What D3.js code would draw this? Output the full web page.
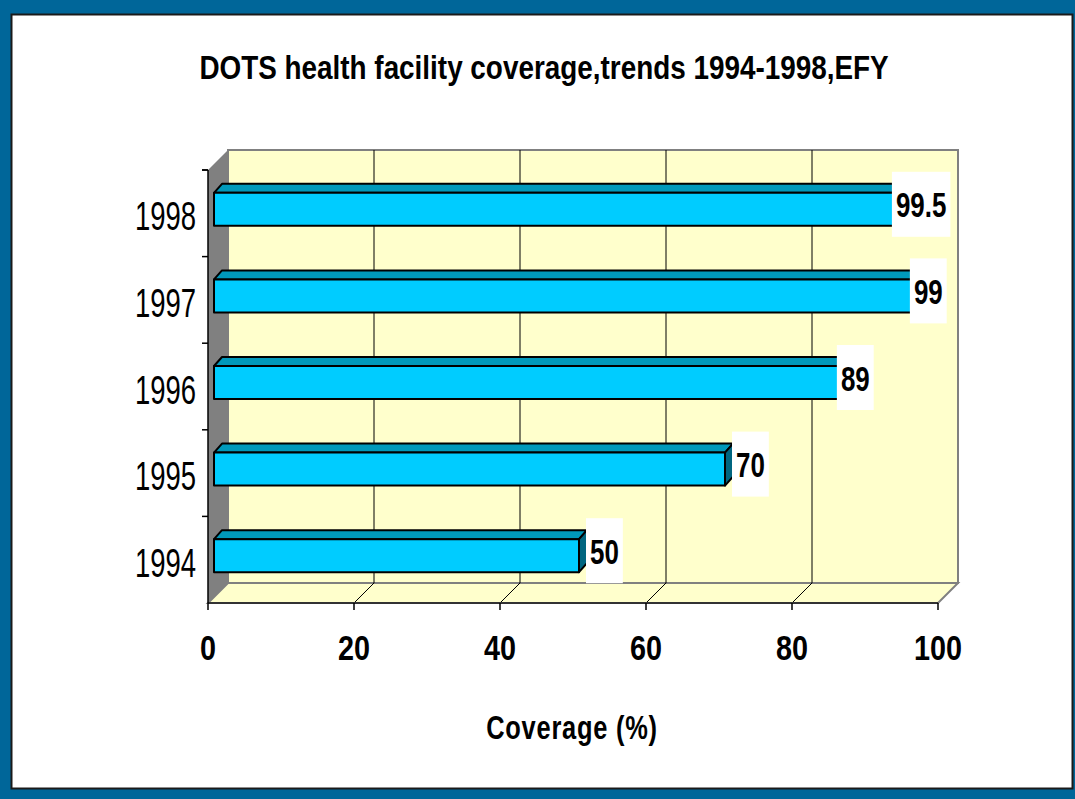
<!DOCTYPE html>
<html lang="en">
<head>
  <meta charset="UTF-8" />
  <title>DOTS health facility coverage</title>
  <script src="https://cdn.jsdelivr.net/npm/d3@7"></script>
  <style>
    * { margin: 0; padding: 0; }
    body { background: #fff; width: 1075px; height: 799px; overflow: hidden; }
    svg text { font-family: 'Liberation Sans', Arial, sans-serif; }
  </style>
</head>
<body>
  <svg id="chart" width="1075" height="799"></svg>

  <script>
    // data
    const years = ['1994', '1995', '1996', '1997', '1998'];
    const coverage = [50, 70, 89, 99, 99.5];
    const xTicks = [0, 20, 40, 60, 80, 100];
    const chartTitle = 'DOTS health facility coverage,trends 1994-1998,EFY';
    const xTitle = 'Coverage (%)';

    const W = 1075, H = 799;
    const DEP = 20;          // 3d depth offset (x right, y up)
    const plot = { left: 208, right: 938, top: 170, bottom: 603 };

    const svg = d3.select('#chart');

    // slide frame
    svg.append('rect').attr('width', W).attr('height', H).attr('fill', '#006699');
    svg.append('rect')
      .attr('x', 11.5).attr('y', 14.5).attr('width', 1061).attr('height', 774)
      .attr('fill', '#fff').attr('stroke', '#1a1a1a').attr('stroke-width', 2);

    const x = d3.scaleLinear().domain([0, 100]).range([plot.left, plot.right]);
    const y = d3.scaleBand().domain(years).range([plot.bottom, plot.top]).paddingInner(0);

    const pts = a => a.map(p => p.join(',')).join(' ');

    // walls
    svg.append('polygon')
      .attr('points', pts([[plot.left + DEP, plot.top - DEP], [plot.right + DEP, plot.top - DEP],
        [plot.right + DEP, plot.bottom - DEP], [plot.left + DEP, plot.bottom - DEP]]))
      .attr('fill', '#ffffcc').attr('stroke', '#808080').attr('stroke-width', 2);
    svg.append('polygon')
      .attr('points', pts([[plot.left, plot.bottom], [plot.right, plot.bottom],
        [plot.right + DEP, plot.bottom - DEP], [plot.left + DEP, plot.bottom - DEP]]))
      .attr('fill', '#ffffcc').attr('stroke', '#808080').attr('stroke-width', 2);

    // grid on back wall and floor
    const inner = xTicks.filter(v => v > 0 && v < 100);
    svg.selectAll('.grid').data(inner).enter().append('line')
      .attr('x1', d => x(d) + DEP).attr('x2', d => x(d) + DEP)
      .attr('y1', plot.top - DEP).attr('y2', plot.bottom - DEP)
      .attr('stroke', '#000').attr('stroke-width', 1);
    svg.selectAll('.floorgrid').data(inner).enter().append('line')
      .attr('x1', d => x(d)).attr('y1', plot.bottom)
      .attr('x2', d => x(d) + DEP).attr('y2', plot.bottom - DEP)
      .attr('stroke', '#000').attr('stroke-width', 1);

    // side wall
    svg.append('polygon')
      .attr('points', pts([[plot.left, plot.top], [plot.left + DEP, plot.top - DEP],
        [plot.left + DEP, plot.bottom - DEP], [plot.left, plot.bottom]]))
      .attr('fill', '#808080');

    // axes lines + ticks
    svg.append('line').attr('x1', plot.left).attr('x2', plot.right)
      .attr('y1', plot.bottom).attr('y2', plot.bottom)
      .attr('stroke', '#333').attr('stroke-width', 2);
    svg.append('line').attr('x1', plot.left).attr('x2', plot.left)
      .attr('y1', plot.top).attr('y2', plot.bottom)
      .attr('stroke', '#000').attr('stroke-width', 1.5);
    svg.selectAll('.xtick').data(xTicks).enter().append('line')
      .attr('x1', d => x(d)).attr('x2', d => x(d))
      .attr('y1', plot.bottom).attr('y2', plot.bottom + 7)
      .attr('stroke', '#000').attr('stroke-width', 1.5);
    const edges = years.map(d => y(d)).concat([plot.top]);
    svg.selectAll('.ytick').data(edges).enter().append('line')
      .attr('x1', plot.left - 6).attr('x2', plot.left)
      .attr('y1', d => d).attr('y2', d => d)
      .attr('stroke', '#000').attr('stroke-width', 1.5);

    // bars
    const bw = 8, bd = 9, half = 16.5, x0 = x(0) + 6;
    const bars = years.map((yr, i) => {
      const yc = y(yr) + y.bandwidth() / 2 - 4;
      const xe = x(coverage[i]) + 6;
      return { yr, v: coverage[i], yc, xe, yt: yc - half, yb: yc + half };
    });
    const g = svg.append('g').attr('stroke', '#000').attr('stroke-width', 2).attr('stroke-linejoin', 'round');
    bars.forEach(b => {
      g.append('polygon')
        .attr('points', pts([[x0, b.yt], [b.xe, b.yt], [b.xe + bw, b.yt - bd], [x0 + bw, b.yt - bd]]))
        .attr('fill', '#0099bb');
      g.append('polygon')
        .attr('points', pts([[b.xe, b.yt], [b.xe + bw, b.yt - bd], [b.xe + bw, b.yb - bd], [b.xe, b.yb]]))
        .attr('fill', '#006680');
      g.append('rect')
        .attr('x', x0).attr('y', b.yt).attr('width', b.xe - x0).attr('height', b.yb - b.yt)
        .attr('fill', '#00ccff');
    });

    // condensed text helper (no narrow face installed, so squeeze horizontally)
    function txt(str, tx, ty, size, weight, sx, anchor) {
      return svg.append('text')
        .attr('transform', `translate(${tx},${ty}) scale(${sx},1)`)
        .attr('text-anchor', anchor || 'middle')
        .attr('font-size', size).attr('font-weight', weight)
        .attr('fill', '#000').text(str);
    }

    // value labels in white boxes
    const lsx = 0.72;
    bars.forEach(b => {
      const t = txt(b.v, 0, 0, 36, 'bold', lsx);
      const w = t.node().getBBox().width * lsx + 8;
      const left = b.v >= 80 ? b.xe + 10 - w : b.xe + 7;
      const cy = y(b.yr) + y.bandwidth() / 2 - 9;
      svg.insert('rect', () => t.node())
        .attr('x', left).attr('y', cy - 32.5).attr('width', w).attr('height', 65)
        .attr('fill', '#fff');
      t.attr('transform', `translate(${left + w / 2},${cy + 13}) scale(${lsx},1)`);
    });

    // axis labels
    years.forEach(yr => txt(yr, 196, y(yr) + y.bandwidth() / 2 + 17, 41, 'normal', 0.67, 'end'));
    xTicks.forEach(v => txt(v, x(v), 660, 36, 'bold', 0.8));
    txt(xTitle, 572, 739, 33, 'bold', 0.77).attr('letter-spacing', 1);
    txt(chartTitle, 544, 79, 34, 'bold', 0.82);
  </script>
</body>
</html>
